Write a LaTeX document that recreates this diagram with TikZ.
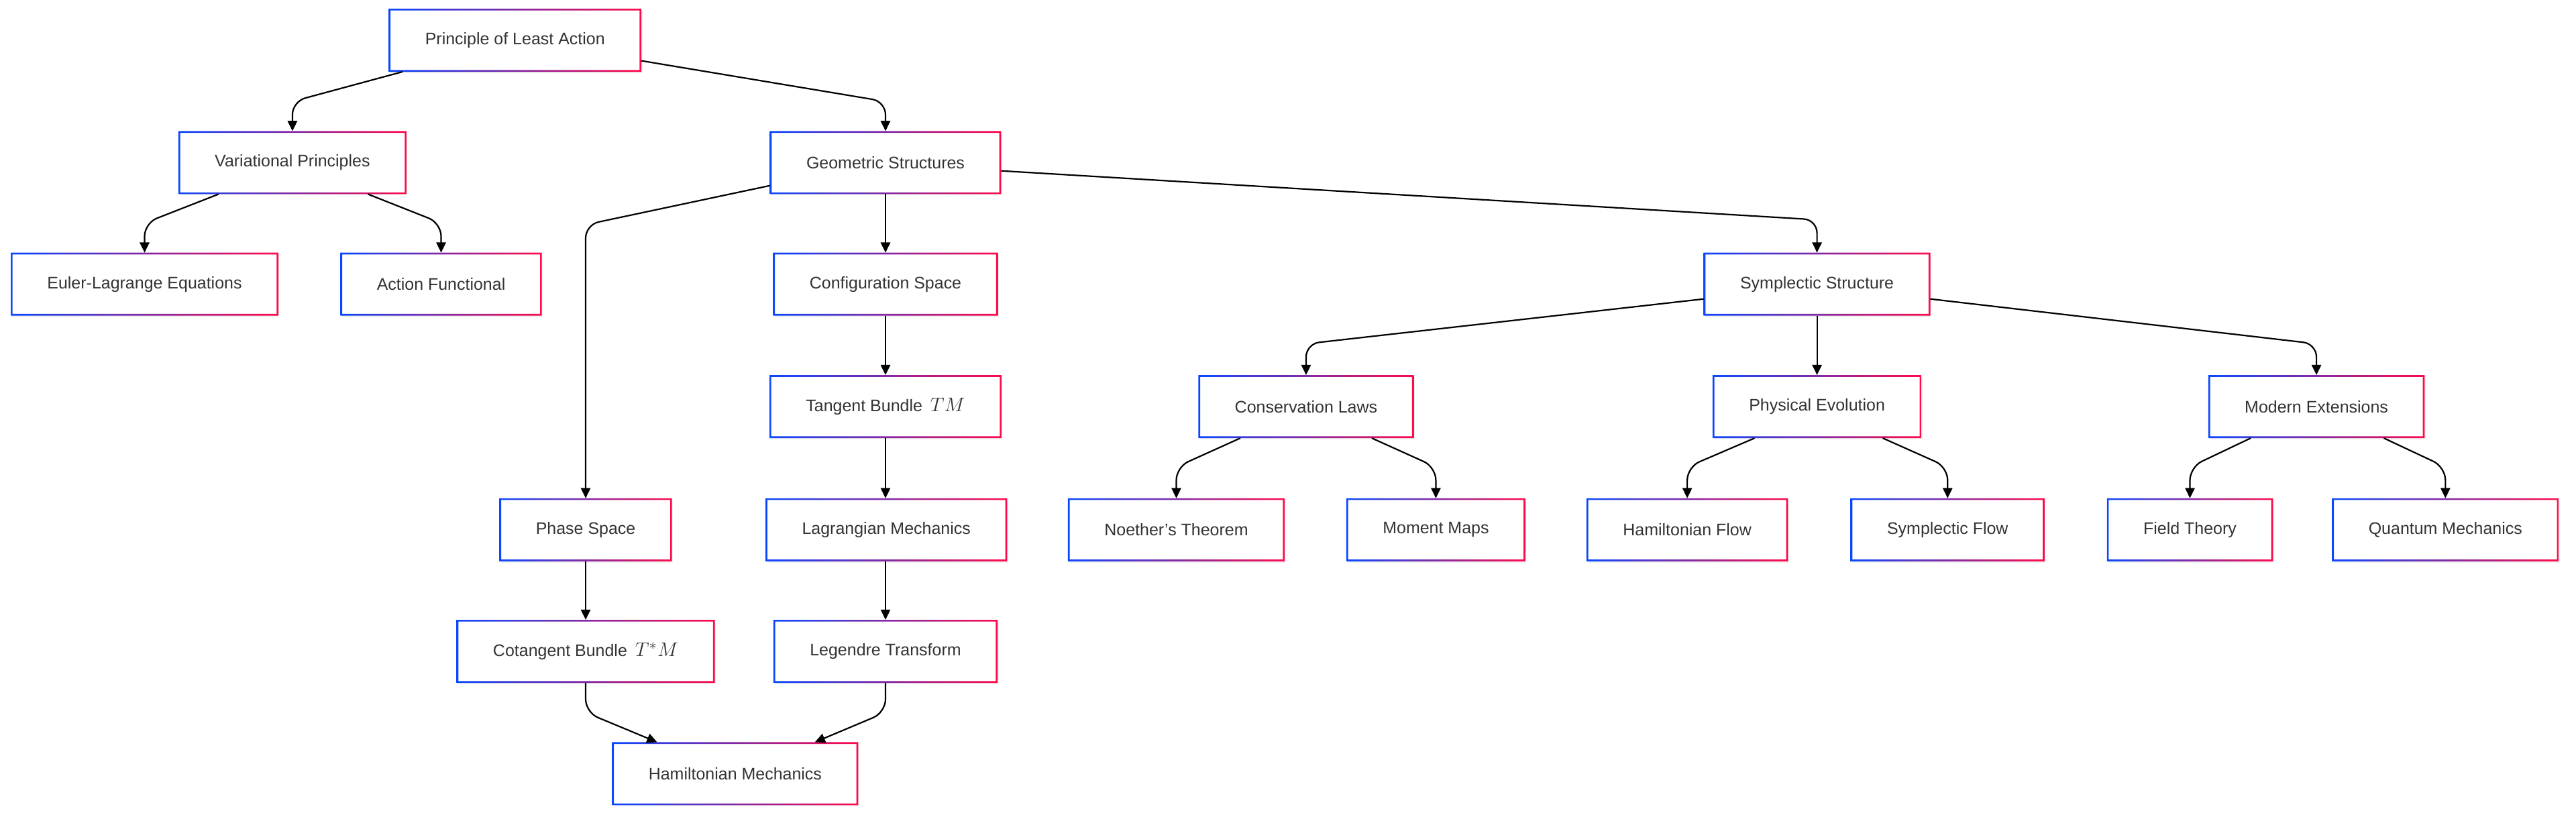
\documentclass[tikz,border=0pt]{standalone}
\usepackage{fontspec}
\setmainfont{Liberation Sans}
\usetikzlibrary{arrows.meta,shadows,calc}
\definecolor{gblue}{HTML}{0A47FF}
\definecolor{gred}{HTML}{FF0A4A}
\definecolor{txt}{HTML}{333333}
\newcommand{\mth}[1]{\hspace{2pt}{\fontsize{12.5}{12}\selectfont$#1$}}
\begin{document}
\begin{tikzpicture}[x=1pt,y=-1pt,
 box/.style={fill=white, inner xsep=22pt, inner ysep=0pt, minimum height=38pt, text=txt,
   font=\fontsize{10.2}{12}\selectfont,
   drop shadow={shadow xshift=0.8pt, shadow yshift=-1pt, opacity=0.12}},
 edge/.style={line width=0.9pt, draw=black, -{Triangle[length=6.2pt,width=5.8pt]}, rounded corners=8pt}]
\useasboundingbox[fill=white] (0,0) rectangle (1568,497);

\node[box] (pla) at (313.5,24.5) {Principle of Least Action};
\node[box] (varpr) at (178,99) {Variational Principles};
\node[box] (geo) at (539,99) {Geometric Structures};
\node[box] (el) at (88,173) {Euler-Lagrange Equations};
\node[box] (act) at (268.5,173) {Action Functional};
\node[box] (conf) at (539,173) {Configuration Space};
\node[box] (symp) at (1106,173) {Symplectic Structure};
\node[box] (tan) at (539,247.5) {Tangent Bundle \mth{TM}};
\node[box] (cons) at (795,247.5) {Conservation Laws};
\node[box] (phys) at (1106,247.5) {Physical Evolution};
\node[box] (mod) at (1410,247.5) {Modern Extensions};
\node[box] (phase) at (356.5,322.5) {Phase Space};
\node[box] (lag) at (539.5,322.5) {Lagrangian Mechanics};
\node[box] (noe) at (716,322.5) {Noether's Theorem};
\node[box] (mom) at (874,322.5) {Moment Maps};
\node[box] (hfl) at (1027,322.5) {Hamiltonian Flow};
\node[box] (sfl) at (1185.5,322.5) {Symplectic Flow};
\node[box] (fld) at (1333,322.5) {Field Theory};
\node[box] (qm) at (1488.5,322.5) {Quantum Mechanics};
\node[box] (cot) at (356.5,396.5) {Cotangent Bundle \mth{T^*M}};
\node[box] (leg) at (539,396.5) {Legendre Transform};
\node[box] (ham) at (447.5,471) {Hamiltonian Mechanics};

\foreach \n in {pla,varpr,geo,el,act,conf,symp,tan,cons,phys,mod,phase,lag,noe,mom,hfl,sfl,fld,qm,cot,leg,ham}{
  \shade[left color=gblue, right color=gred, even odd rule]
    (\n.south west) rectangle (\n.north east)
    ([shift={(1.1pt,1.1pt)}]\n.south west) rectangle ([shift={(-1.1pt,-1.1pt)}]\n.north east);
}

\draw[edge] ([xshift=-68.5pt]pla.south) -- ([yshift=18pt]varpr.north) -- (varpr.north);
\draw[edge] ([yshift=-12.5pt]pla.east) -- ([yshift=18pt]geo.north) -- (geo.north);
\draw[edge] ([xshift=-45pt]varpr.south) -- ([yshift=18pt]el.north) -- (el.north);
\draw[edge] ([xshift=46pt]varpr.south) -- ([yshift=18pt]act.north) -- (act.north);
\draw[edge] ([yshift=-14pt]geo.west) -- ([yshift=166.5pt]phase.north) -- (phase.north);
\draw[edge] (geo.south) -- (conf.north);
\draw[edge] ([yshift=-5pt]geo.east) -- ([yshift=20pt]symp.north) -- (symp.north);
\draw[edge] (conf.south) -- (tan.north);
\draw[edge] (tan.south) -- (lag.north -| tan.south);
\draw[edge] (lag.south -| leg.north) -- (leg.north);
\draw[edge] (phase.south) -- (cot.north);
\draw[edge] (cot.south) -- ([yshift=-18pt]cot.south) -- ([xshift=-47.5pt]ham.north);
\draw[edge] (leg.south) -- ([yshift=-18pt]leg.south) -- ([xshift=48.5pt]ham.north);
\draw[edge] ([yshift=-9pt]symp.west) -- ([yshift=19pt]cons.north) -- (cons.north);
\draw[edge] (symp.south) -- (phys.north);
\draw[edge] ([yshift=-9pt]symp.east) -- ([yshift=19pt]mod.north) -- (mod.north);
\draw[edge] ([xshift=-40pt]cons.south) -- ([yshift=19pt]noe.north) -- (noe.north);
\draw[edge] ([xshift=40pt]cons.south) -- ([yshift=19pt]mom.north) -- (mom.north);
\draw[edge] ([xshift=-38pt]phys.south) -- ([yshift=19pt]hfl.north) -- (hfl.north);
\draw[edge] ([xshift=40pt]phys.south) -- ([yshift=19pt]sfl.north) -- (sfl.north);
\draw[edge] ([xshift=-40pt]mod.south) -- ([yshift=19pt]fld.north) -- (fld.north);
\draw[edge] ([xshift=41pt]mod.south) -- ([yshift=19pt]qm.north) -- (qm.north);
\end{tikzpicture}
\end{document}
